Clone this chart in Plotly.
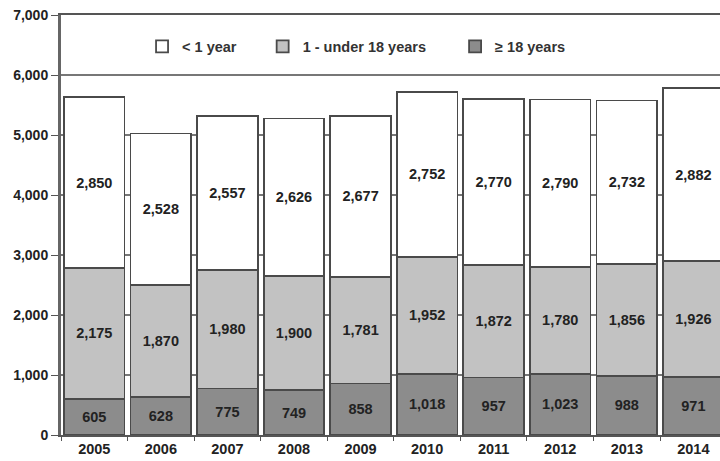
import plotly.graph_objects as go

years = ["2005", "2006", "2007", "2008", "2009", "2010", "2011", "2012", "2013", "2014"]
adult = [605, 628, 775, 749, 858, 1018, 957, 1023, 988, 971]
child = [2175, 1870, 1980, 1900, 1781, 1952, 1872, 1780, 1856, 1926]
infant = [2850, 2528, 2557, 2626, 2677, 2752, 2770, 2790, 2732, 2882]

names = ["≥ 18 years", "1 - under 18 years", "< 1 year"]
colors = ["#8c8c8c", "#c2c2c2", "#ffffff"]
series = [adult, child, infant]
legends = ["legend3", "legend2", "legend"]

FONT = "Liberation Sans, Arial, sans-serif"

fig = go.Figure()
for name, col, vals, lg in zip(names, colors, series, legends):
    fig.add_trace(go.Bar(
        x=years, y=vals, name=name, legend=lg,
        marker=dict(color=col, line=dict(color="#4a4a4a", width=1.8)),
        texttemplate="%{y:,}", textposition="inside", insidetextanchor="middle",
        textangle=0, constraintext="none",
        textfont=dict(family=FONT, size=14.5, color="#222222", weight=700),
    ))

legfont = dict(family=FONT, size=14.5, color="#333333", weight=700)
common = dict(orientation="h", yanchor="middle", y=0.925, xanchor="left",
              bgcolor="rgba(0,0,0,0)", font=legfont, itemwidth=30)

fig.update_layout(
    barmode="stack", bargap=0.09,
    width=720, height=461,
    margin=dict(l=61, r=0, t=15, b=26),
    paper_bgcolor="white", plot_bgcolor="white",
    showlegend=True,
    legend=dict(x=0.123, **common),
    legend2=dict(x=0.306, **common),
    legend3=dict(x=0.598, **common),
    xaxis=dict(range=[-0.5, 9.4], showline=True, mirror=True, linecolor="#555555", linewidth=2,
               ticks="outside", tickson="boundaries", ticklen=4, tickcolor="#555555",
               tickfont=dict(family=FONT, size=14.5, color="#222222", weight=700),
               showgrid=False),
    yaxis=dict(range=[0, 7000], dtick=1000, tickformat=",", showline=True,
               linecolor="#666666", linewidth=3, ticks="outside", ticklen=7,
               tickcolor="#555555", showgrid=True, gridcolor="#777777", gridwidth=2,
               tickfont=dict(family=FONT, size=14, color="#222222", weight=700),
               zeroline=False),
)

fig.write_html("out.html")
